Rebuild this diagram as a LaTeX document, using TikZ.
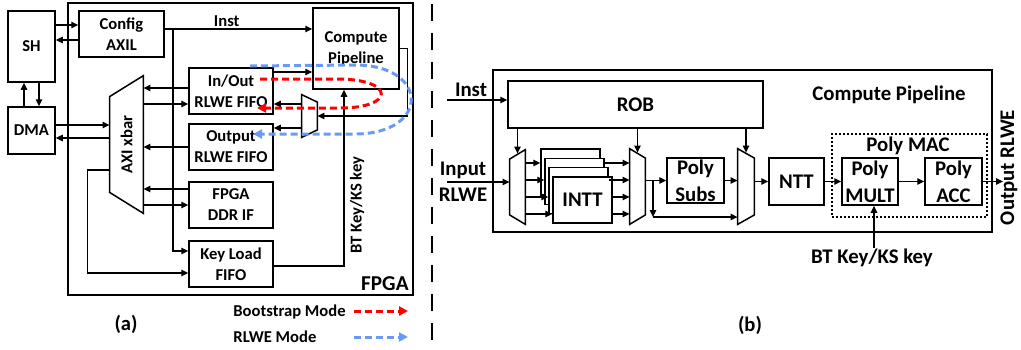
\documentclass[tikz,border=0pt]{standalone}
\usepackage{fontspec}
\setmainfont{Carlito}
\usepackage{tikz}
\usetikzlibrary{arrows.meta,positioning,fit,calc}
\definecolor{BootRed}{HTML}{FF0000}
\definecolor{RlweBlue}{HTML}{6A9BF4}

\begin{document}
\begin{tikzpicture}[
            x=0.5pt, y=-0.5pt,
            font=\fontsize{8.3}{10.5}\selectfont\bfseries,
            blk/.style={draw, line width=0.75pt, inner sep=0pt, align=center},
            bigblk/.style={blk, font=\fontsize{10.4}{13.5}\selectfont\bfseries},
            fifo/.style={blk, minimum width=42pt, minimum height=23pt},
            frame/.style={draw, line width=1pt, inner sep=0pt},
            muxbox/.style={inner sep=0pt},
            trap/.style={draw, line width=0.75pt, line join=miter},
            lbl/.style={inner sep=0pt},
            biglbl/.style={inner sep=0pt, align=center, font=\fontsize{10.4}{13}\selectfont\bfseries},
            capt/.style={inner sep=0pt, font=\fontsize{10.3}{12}\selectfont\bfseries},
            arrow/.style={-{Triangle[length=3.5pt,width=3.2pt]}, line width=0.7pt},
            bootarrow/.style={-{Triangle[length=4.5pt,width=4.5pt]}, line width=1.5pt, draw=BootRed, dash pattern=on 3.5pt off 2pt},
            rlwearrow/.style={-{Triangle[length=4.5pt,width=4.5pt]}, line width=1.5pt, draw=RlweBlue, dash pattern=on 3.5pt off 2pt},
            divider/.style={line width=1.2pt, dash pattern=on 8.5pt off 6pt},
        ]
        \useasboundingbox (0,0) rectangle (1021,349);

        % (a) FPGA side
        \node[frame, fit={(68,3)(413,295)}] (fpga) {};
        \node[lbl, anchor=base east, font=\fontsize{10.6}{12}\selectfont\bfseries] (fpgalbl) at (409,290) {FPGA};

        \node[blk, minimum width=23.5pt, minimum height=35.5pt] (sh) at (31.5,46.5) {SH};
        \node[blk, minimum width=23.5pt, minimum height=23.5pt] (dma) at (31.5,130.5) {DMA};
        \node[blk, minimum width=42.5pt, minimum height=23pt] (axil) at (121.5,34) {Config\\AXIL};
        \node[fifo] (iofifo) at (231,91) {In/Out\\RLWE FIFO};
        \node[fifo] (outfifo) at (231,147) {Output\\RLWE FIFO};
        \node[fifo] (ddrif) at (231,205) {FPGA\\DDR IF};
        \node[fifo] (keyfifo) at (231,264) {Key Load\\FIFO};
        \node[blk, minimum width=43pt, minimum height=40.5pt] (cpa) at (356,48.5) {Compute\\Pipeline};

        \node[muxbox, fit={(110,76)(143,213)}] (xbar) {};
        \draw[trap] (xbar.north east) -- (xbar.south east) -- ([yshift=10.5pt]xbar.south west) -- ([yshift=-10.5pt]xbar.north west) -- cycle;
        \node[lbl, rotate=90] (xbarlbl) at (xbar.center) {AXI xbar};

        \node[muxbox, fit={(302,95)(317,137)}] (smux) {};
        \draw[trap] (smux.north west) -- ([yshift=-3.75pt]smux.north east) -- ([yshift=3.75pt]smux.south east) -- (smux.south west) -- cycle;

        \draw[arrow] ([yshift=4.5pt]axil.west -| sh.east) -- ([yshift=4.5pt]axil.west);
        \draw[arrow] ([yshift=-3pt]axil.west) -- ([yshift=-3pt]axil.west -| sh.east);
        \draw[arrow] ([xshift=-3.75pt]dma.north) -- ([xshift=-3.75pt]dma.north |- sh.south);
        \draw[arrow] ([xshift=3.75pt]sh.south) -- ([xshift=3.75pt]sh.south |- dma.north);
        \draw[arrow] ([yshift=2.75pt]dma.east) -- ([yshift=2.75pt]dma.east -| xbar.west);
        \draw[arrow] ([yshift=-3.75pt]dma.east -| xbar.west) -- ([yshift=-3.75pt]dma.east);

        \draw[arrow] ([yshift=9.75pt]cpa.west -| axil.east) -- node[lbl, above=1pt, pos=0.42] (instlbl) {Inst} ([yshift=9.75pt]cpa.west);
        \coordinate (tap) at (173,29.5);
        \draw[arrow] (tap) |- ([yshift=6.5pt]keyfifo.west);

        \draw[arrow] ([yshift=1.5pt]iofifo.west) -- ([yshift=1.5pt]iofifo.west -| xbar.east);
        \draw[arrow] ([yshift=-6.5pt]iofifo.west -| xbar.east) -- ([yshift=-6.5pt]iofifo.west);
        \draw[arrow] (outfifo.west) -- (outfifo.west -| xbar.east);
        \draw[arrow] ([yshift=8pt]ddrif.west) -- ([yshift=8pt]ddrif.west -| xbar.east);
        \draw[arrow] (ddrif.west -| xbar.east) -- (ddrif.west);
        \draw[arrow] ([yshift=-12.75pt]xbar.west) -- ++(-22,0) |- ([yshift=-4.5pt]keyfifo.west);

        \draw[arrow] ([yshift=-11.75pt]cpa.west -| iofifo.east) -- ([yshift=-11.75pt]cpa.west);
        \draw[arrow] (cpa.east) -- ++(8,0) |- (smux.east);
        \draw[arrow] ([yshift=6pt]smux.west) -- ([yshift=6pt]smux.west -| iofifo.east);
        \draw[arrow] ([yshift=-6pt]smux.west) -- ([yshift=-6pt]smux.west -| outfifo.east);
        \draw[arrow] ([yshift=-1pt]keyfifo.east) -| ([xshift=-6pt]cpa.south);
        \node[lbl, rotate=90] (keylbl) at (357,205) {BT Key/KS key};

        % mode loops
        \coordinate (bootstart) at (260,79);
        \coordinate (bootend) at (257,108);
        \coordinate (rlwestart) at (250,66);
        \coordinate (rlweend) at (253,134);
        \draw[bootarrow] (bootstart) -- (340,79) .. controls (395,80) and (395,108) .. (340,108) -- (bootend);
        \draw[rlwearrow] (rlwestart) -- (355,65) .. controls (430,65) and (430,134) .. (355,134) -- (rlweend);

        % legend
        \node[lbl, anchor=base west] (bootlbl) at (233,316.5) {Bootstrap Mode};
        \node[lbl, anchor=base west] (rlwelbl) at (233,342.5) {RLWE Mode};
        \coordinate (bootkey) at (354,311);
        \coordinate (rlwekey) at (354,337);
        \draw[bootarrow] (bootkey) -- ++(54,0);
        \draw[rlwearrow] (rlwekey) -- ++(54,0);

        \node[capt] (capa) at (126,324) {(a)};

        % divider
        \coordinate (divtop) at (432,4);
        \coordinate (divbot) at (432,346);
        \draw[divider] (divtop) -- (divbot);

        % (b) compute pipeline
        \node[frame, minimum width=249.5pt, minimum height=81pt] (cpb) at (742.5,151) {};
        \node[bigblk, minimum width=127.5pt, minimum height=23.5pt] (rob) at (635.5,104.5) {ROB};
        \node[biglbl] (cpblbl) at (889,95) {Compute Pipeline};

        \node[muxbox, fit={(510,150)(525,224)}] (demux) {};
        \draw[trap] (demux.north east) -- (demux.south east) -- ([yshift=4.75pt]demux.south west) -- ([yshift=-4.75pt]demux.north west) -- cycle;
        \node[muxbox, fit={(630,149)(645,224)}] (inttmux) {};
        \draw[trap] (inttmux.north west) -- ([yshift=-4.75pt]inttmux.north east) -- ([yshift=4.75pt]inttmux.south east) -- (inttmux.south west) -- cycle;
        \node[muxbox, fit={(738,149)(754,224)}] (subsmux) {};
        \draw[trap] (subsmux.north west) -- ([yshift=-4.75pt]subsmux.north east) -- ([yshift=4.75pt]subsmux.south east) -- (subsmux.south west) -- cycle;

        \foreach \i in {0,1,2}
            \node[bigblk, fill=white, minimum width=29.5pt, minimum height=23pt] (intt\i) at (570.5+4*\i,172+9.33*\i) {};
        \node[bigblk, fill=white, minimum width=29.5pt, minimum height=23pt] (intt3) at (582.5,200) {INTT};

        \foreach \i in {0,...,3} {
            \pgfmathsetmacro{\dy}{4.5-3.83*\i}
            \pgfmathtruncatemacro{\j}{min(\i+1,3)}
            \draw[arrow] ([yshift=\dy pt]intt\i.west -| demux.east) -- ([yshift=\dy pt]intt\i.west);
            \draw[arrow] ([yshift=\dy pt]intt\i.west -| intt\j.east) -- ([yshift=\dy pt]intt\i.west -| inttmux.west);
        }

        \coordinate (instin) at (447,100);
        \draw[arrow] (instin) -- (instin -| rob.west);
        \node[biglbl] (instlbl2) at (471,90) {Inst};
        \coordinate (rlwein) at (447,182);
        \draw[arrow] (rlwein) -- (rlwein -| demux.west);
        \node[biglbl] (inlbl) at (463,182) {Input\\RLWE};

        \draw[arrow] (rob.south -| demux.north) -- ([yshift=-2pt]demux.north);
        \draw[arrow] (rob.south -| inttmux.north) -- ([yshift=-2pt]inttmux.north);
        \draw[arrow] (rob.south -| subsmux.north) -- ([yshift=-2pt]subsmux.north);

        \node[bigblk, minimum width=28.5pt, minimum height=22.5pt] (polysubs) at (695.5,180.5) {Poly\\Subs};
        \draw[arrow] (polysubs.west -| inttmux.east) -- (polysubs.west);
        \coordinate (bypass) at (653,217);
        \draw[arrow] (bypass |- polysubs.west) -- (bypass);
        \draw[arrow] (bypass) -- (bypass -| subsmux.west);
        \draw[arrow] (polysubs.east) -- (polysubs.east -| subsmux.west);

        \node[bigblk, minimum width=27.5pt, minimum height=23.5pt] (ntt) at (796.5,181.5) {NTT};
        \draw[arrow] (ntt.west -| subsmux.east) -- (ntt.west);

        \node[draw, line width=0.7pt, dash pattern=on 1pt off 1pt, inner sep=0pt, fit={(832,134)(987,217)}] (mac) {};
        \node[biglbl] (maclbl) at (908,146) {Poly MAC};
        \node[bigblk, minimum width=28pt, minimum height=23.5pt] (mult) at (870,181.5) {Poly\\MULT};
        \node[bigblk, minimum width=28.5pt, minimum height=23.5pt] (acc) at (953.5,181.5) {Poly\\ACC};
        \draw[arrow] (ntt) -- (mult);
        \draw[arrow] (mult) -- (acc);
        \coordinate (rlweout) at (1003,181.5);
        \draw[arrow] (acc) -- (rlweout);
        \node[biglbl, rotate=90] (outlbl) at (1009,167.5) {Output RLWE};

        \coordinate (keyin) at (874,248);
        \draw[arrow] (keyin) -- (keyin |- mult.south);
        \node[biglbl] (keylbl2) at (872,258) {BT Key/KS key};

        \node[capt] (capb) at (750,325) {(b)};
    \end{tikzpicture}
\end{document}
